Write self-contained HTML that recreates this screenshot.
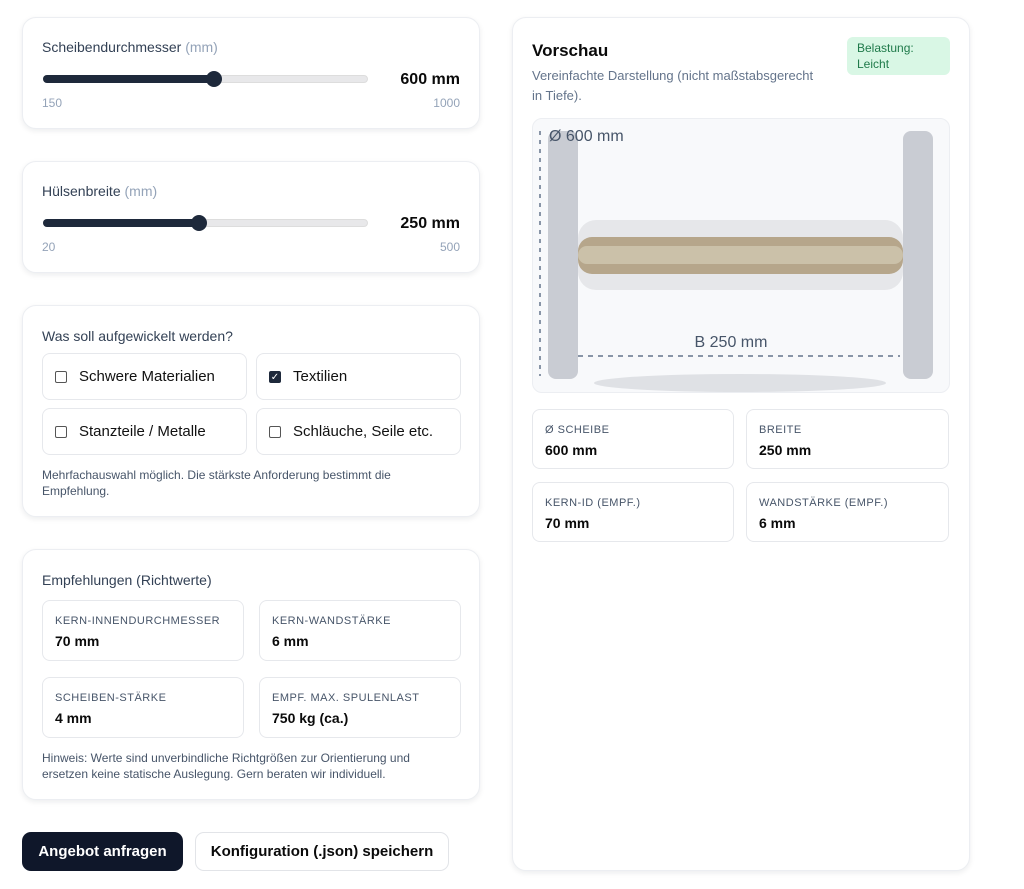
<!DOCTYPE html>
<html><head><meta charset="utf-8"><style>
*{box-sizing:border-box;margin:0;padding:0}
body{width:1024px;height:889px;background:#fff;font-family:"Liberation Sans",sans-serif;position:relative;overflow:hidden;color:#0f172a}
.card{position:absolute;background:#fff;border:1px solid #eceef2;border-radius:14px;box-shadow:0 2px 6px rgba(15,23,42,.08)}
.abs{position:absolute}
.lbl{font-size:14px;color:#334155}
.unit{color:#94a3b8}
.track{position:absolute;height:8px;border-radius:4px;background:#e8e8ea;border:1px solid #ddd}
.fill{position:absolute;height:8px;border-radius:4px;background:#1e293b}
.knob{position:absolute;width:16px;height:16px;border-radius:50%;background:#1e293b}
.val{position:absolute;font-size:16px;font-weight:bold;color:#0a0a0a}
.tick{position:absolute;font-size:12px;color:#94a3b8}
.box{position:absolute;border:1px solid #e6e8ec;border-radius:8px;background:#fff}
.cb{position:absolute;left:12px;top:17px;width:12px;height:12px;border:1px solid #555;border-radius:2px;background:#fff}
.cbt{position:absolute;left:36px;top:14px;font-size:15px;color:#111}
.sl{position:absolute;left:12px;top:14px;font-size:11px;color:#475569;letter-spacing:.5px}
.sv{position:absolute;left:12px;top:32px;font-size:14px;font-weight:bold;color:#0a0a0a}
.small{font-size:12px;color:#475569;line-height:16px}
</style></head><body>

<div class="card" style="left:22px;top:17px;width:458px;height:112px">
<div class="abs lbl" style="left:19px;top:21px">Scheibendurchmesser <span class="unit">(mm)</span></div>
<div class="track" style="left:20px;top:57px;width:325px"></div>
<div class="fill" style="left:20px;top:57px;width:172px"></div>
<div class="knob" style="left:183px;top:53px"></div>
<div class="val" style="right:19px;top:53px">600 mm</div>
<div class="tick" style="left:19px;top:78px">150</div>
<div class="tick" style="right:19px;top:78px">1000</div>
</div>

<div class="card" style="left:22px;top:161px;width:458px;height:112px">
<div class="abs lbl" style="left:19px;top:21px">Hülsenbreite <span class="unit">(mm)</span></div>
<div class="track" style="left:20px;top:57px;width:325px"></div>
<div class="fill" style="left:20px;top:57px;width:158px"></div>
<div class="knob" style="left:168px;top:53px"></div>
<div class="val" style="right:19px;top:53px">250 mm</div>
<div class="tick" style="left:19px;top:78px">20</div>
<div class="tick" style="right:19px;top:78px">500</div>
</div>

<div class="card" style="left:22px;top:305px;width:458px;height:212px">
<div class="abs lbl" style="left:19px;top:22px">Was soll aufgewickelt werden?</div>
<div class="box" style="left:19px;top:47px;width:205px;height:47px"><div class="cb"></div><div class="cbt">Schwere Materialien</div></div>
<div class="box" style="left:233px;top:47px;width:205px;height:47px"><div class="cb" style="background:#1e293b;border-color:#1e293b;color:#fff;font-size:10px;line-height:11px;text-align:center">✓</div><div class="cbt">Textilien</div></div>
<div class="box" style="left:19px;top:102px;width:205px;height:47px"><div class="cb"></div><div class="cbt">Stanzteile / Metalle</div></div>
<div class="box" style="left:233px;top:102px;width:205px;height:47px"><div class="cb"></div><div class="cbt">Schläuche, Seile etc.</div></div>
<div class="abs small" style="left:19px;top:161px;width:400px">Mehrfachauswahl möglich. Die stärkste Anforderung bestimmt die Empfehlung.</div>
</div>

<div class="card" style="left:22px;top:549px;width:458px;height:251px">
<div class="abs lbl" style="left:19px;top:22px">Empfehlungen (Richtwerte)</div>
<div class="box" style="left:19px;top:50px;width:202px;height:61px"><div class="sl">KERN-INNENDURCHMESSER</div><div class="sv">70 mm</div></div>
<div class="box" style="left:236px;top:50px;width:202px;height:61px"><div class="sl">KERN-WANDSTÄRKE</div><div class="sv">6 mm</div></div>
<div class="box" style="left:19px;top:127px;width:202px;height:61px"><div class="sl">SCHEIBEN-STÄRKE</div><div class="sv">4 mm</div></div>
<div class="box" style="left:236px;top:127px;width:202px;height:61px"><div class="sl">EMPF. MAX. SPULENLAST</div><div class="sv">750 kg (ca.)</div></div>
<div class="abs small" style="left:19px;top:200px;width:410px">Hinweis: Werte sind unverbindliche Richtgrößen zur Orientierung und ersetzen keine statische Auslegung. Gern beraten wir individuell.</div>
</div>

<div class="abs" style="left:22px;top:832px;width:161px;height:39px;background:#0f172a;border-radius:9px;color:#fff;font-size:15px;font-weight:bold;line-height:39px;text-align:center">Angebot anfragen</div>
<div class="abs" style="left:195px;top:832px;width:254px;height:39px;background:#fff;border:1px solid #e2e4e8;border-radius:9px;color:#0a0a0a;font-size:15px;font-weight:bold;line-height:37px;text-align:center">Konfiguration (.json) speichern</div>

<div class="card" style="left:512px;top:17px;width:458px;height:854px">
<div class="abs" style="left:19px;top:23px;font-size:17px;font-weight:bold;color:#0a0a0a">Vorschau</div>
<div class="abs" style="left:19px;top:48px;white-space:nowrap;font-size:13px;line-height:20px;color:#64748b">Vereinfachte Darstellung (nicht maßstabsgerecht<br>in Tiefe).</div>
<div class="abs" style="left:334px;top:19px;width:103px;height:38px;background:#d9f7e5;border-radius:6px;padding:3px 10px;font-size:12px;line-height:16px;color:#1f7a4a">Belastung:<br>Leicht</div>
</div>

<div class="abs" style="left:532px;top:118px;width:418px;height:275px;background:#f8f9fb;border:1px solid #eceef2;border-radius:10px"></div>
<svg class="abs" style="left:0;top:0" width="1024" height="889">
<ellipse cx="740" cy="383" rx="146" ry="9" fill="#dfe1e5"/>
<rect x="548" y="131" width="30" height="248" rx="8" fill="#c9ccd3"/>
<rect x="903" y="131" width="30" height="248" rx="8" fill="#c9ccd3"/>
<rect x="578" y="220" width="325" height="70" rx="18" fill="#e6e7ea"/>
<rect x="578" y="237" width="325" height="37" rx="14" fill="#b6a68b"/>
<rect x="578" y="246" width="325" height="18" rx="9" fill="#cbc1a9"/>
<line x1="540" y1="131" x2="540" y2="376" stroke="#64748b" stroke-width="1.5" stroke-dasharray="4 5"/>
<line x1="578" y1="356" x2="900" y2="356" stroke="#64748b" stroke-width="1.5" stroke-dasharray="5 5"/>
<text x="549" y="141" font-family="Liberation Sans" font-size="16" fill="#475569">Ø 600 mm</text>
<text x="731" y="347" text-anchor="middle" font-family="Liberation Sans" font-size="16" fill="#475569">B 250 mm</text>
</svg>

<div class="box" style="left:532px;top:409px;width:202px;height:60px"><div class="sl">Ø SCHEIBE</div><div class="sv">600 mm</div></div>
<div class="box" style="left:746px;top:409px;width:203px;height:60px"><div class="sl">BREITE</div><div class="sv">250 mm</div></div>
<div class="box" style="left:532px;top:482px;width:202px;height:60px"><div class="sl">KERN-ID (EMPF.)</div><div class="sv">70 mm</div></div>
<div class="box" style="left:746px;top:482px;width:203px;height:60px"><div class="sl">WANDSTÄRKE (EMPF.)</div><div class="sv">6 mm</div></div>
</body></html>
